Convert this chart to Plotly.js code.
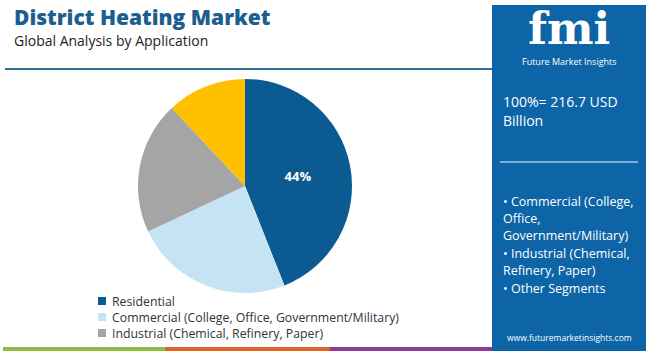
<!DOCTYPE html>
<html>
<head>
<meta charset="utf-8">
<script src="https://cdn.plot.ly/plotly-3.0.1.min.js"></script>
<style>html,body{margin:0;padding:0;background:#fff;}#chart{width:650px;height:351px;}</style>
</head>
<body>
<div id="chart"></div>
<script>
const categories = ["Residential", "Commercial (College, Office, Government/Military)", "Industrial (Chemical, Refinery, Paper)", "Other Segments"];
const shares = [44, 24, 20, 12];
const sliceLabels = ["44%", "", "", ""];
const legendItems = ["Residential", "Commercial (College, Office, Government/Military)", "Industrial (Chemical, Refinery, Paper)"];
const panelBullets = ["• Commercial (College,", "Office,", "Government/Military)", "• Industrial (Chemical,", "Refinery, Paper)", "• Other Segments"];
const totalText = ["100%= 216.7 USD", "Billion"];
const colors = ["#0b5a91", "#c6e3f4", "#a5a5a5", "#ffc000"];

const W = 650, H = 351;
const px = x => x / W;
const py = y => 1 - y / H;
const FONT = "Open Sans, sans-serif";

const cx = 245, cy = 186, r = 107;

const trace = {
  type: "pie",
  labels: categories,
  values: shares,
  text: sliceLabels,
  textinfo: "text",
  textposition: "inside",
  insidetextfont: {color: "#ffffff", size: 13, family: FONT, weight: 700},
  marker: {colors: colors, line: {color: "#ffffff", width: 0}},
  sort: false,
  direction: "clockwise",
  rotation: 0,
  hoverinfo: "none",
  showlegend: false,
  domain: {x: [px(cx - r), px(cx + r)], y: [py(cy + r), py(cy - r)]}
};

const shapes = [
  {type: "line", xref: "paper", yref: "paper", x0: px(5), x1: px(492), y0: py(69), y1: py(69), line: {color: "#2f6f98", width: 2}},
  {type: "rect", xref: "paper", yref: "paper", x0: px(492), x1: px(646), y0: py(5), y1: py(351), fillcolor: "#0d64a6", line: {width: 0}},
  {type: "line", xref: "paper", yref: "paper", x0: px(500), x1: px(638), y0: py(162), y1: py(162), line: {color: "#9cc7ea", width: 1.5}},
  {type: "rect", xref: "paper", yref: "paper", x0: px(3), x1: px(165), y0: py(347), y1: py(351), fillcolor: "#8cbf3f", line: {width: 0}},
  {type: "rect", xref: "paper", yref: "paper", x0: px(165), x1: px(330), y0: py(347), y1: py(351), fillcolor: "#e0622a", line: {width: 0}},
  {type: "rect", xref: "paper", yref: "paper", x0: px(330), x1: px(492), y0: py(347), y1: py(351), fillcolor: "#8e3a96", line: {width: 0}}
];

const annotations = [
  {text: "District Heating Market", x: px(12), y: py(17), xanchor: "left", yanchor: "middle", showarrow: false, font: {family: FONT, size: 21, color: "#1b5e8f", weight: 800}},
  {text: "Global Analysis by Application", x: px(12), y: py(40), xanchor: "left", yanchor: "middle", showarrow: false, font: {family: FONT, size: 14, color: "#222222"}},
  {text: "fmi", x: px(569), y: py(28), xanchor: "center", yanchor: "middle", showarrow: false, font: {family: "DejaVu Serif, serif", size: 44, color: "#ffffff", weight: 700}},
  {text: "Future Market Insights", x: px(569), y: py(62), xanchor: "center", yanchor: "middle", showarrow: false, font: {family: FONT, size: 9, color: "#ffffff"}},
  {text: "www.futuremarketinsights.com", x: px(569), y: py(337), xanchor: "center", yanchor: "middle", showarrow: false, font: {family: FONT, size: 8.5, color: "#ffffff"}}
];

totalText.forEach((t, i) => annotations.push({text: t, x: px(501), y: py(101 + i * 20), xanchor: "left", yanchor: "middle", showarrow: false, font: {family: FONT, size: 14, color: "#ffffff"}}));
panelBullets.forEach((t, i) => annotations.push({text: t, x: px(501), y: py(201 + i * 17.4), xanchor: "left", yanchor: "middle", showarrow: false, font: {family: FONT, size: 12.5, color: "#ffffff"}}));

legendItems.forEach((t, i) => {
  const yy = 301 + i * 16;
  shapes.push({type: "rect", xref: "paper", yref: "paper", x0: px(98), x1: px(106), y0: py(yy + 4), y1: py(yy - 4), fillcolor: colors[i], line: {width: 0}});
  annotations.push({text: t, x: px(110), y: py(yy), xanchor: "left", yanchor: "middle", showarrow: false, font: {family: FONT, size: 12.3, color: "#333333"}});
});

const layout = {
  width: W, height: H,
  margin: {l: 0, r: 0, t: 0, b: 0},
  paper_bgcolor: "#ffffff",
  plot_bgcolor: "#ffffff",
  showlegend: false,
  shapes: shapes,
  annotations: annotations
};

Plotly.newPlot("chart", [trace], layout, {displayModeBar: false, staticPlot: true});
</script>
</body>
</html>
